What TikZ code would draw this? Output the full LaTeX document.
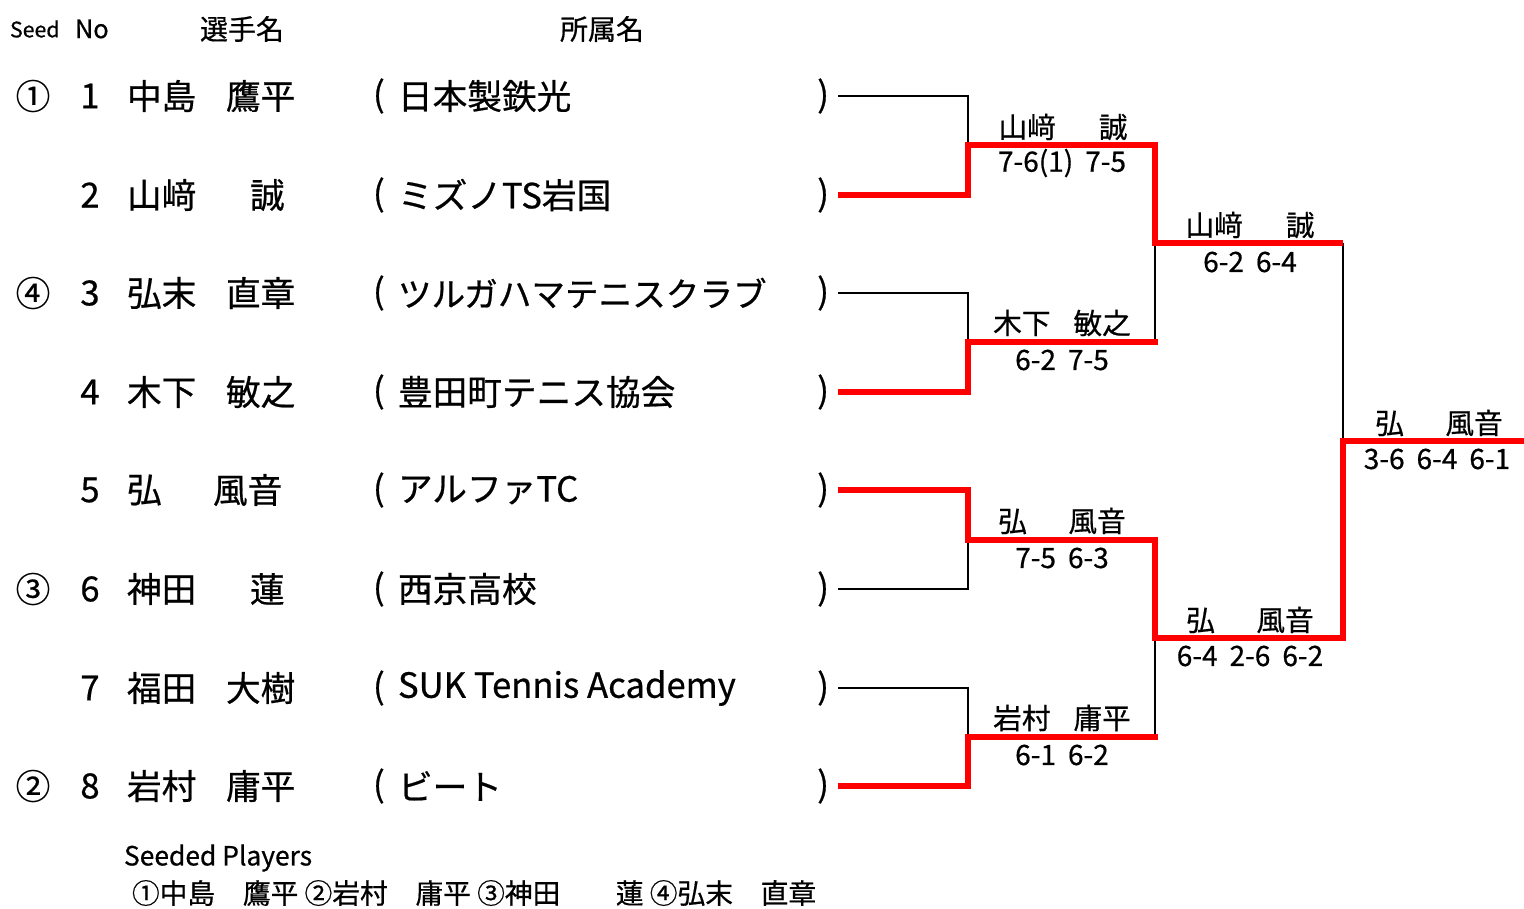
\documentclass[tikz,border=0pt]{standalone}
\usepackage{fontspec}
\setmainfont{Noto Sans CJK JP}[BoldFont={Noto Sans CJK JP},BoldFeatures={FakeBold=0.6}]
\begin{document}
\begin{tikzpicture}[x=0.75pt,y=-0.75pt,
  every node/.style={inner sep=0pt,outer sep=0pt},
  pl/.style={font=\bfseries\fontsize{26}{26}\selectfont,anchor=west},
  hdr/.style={font=\bfseries\fontsize{21}{21}\selectfont},
  wname/.style={font=\bfseries\fontsize{21.5}{21.5}\selectfont},
  score/.style={font=\bfseries\fontsize{21}{21}\selectfont,execute at begin node={\spaceskip=9pt\relax}},
  loser/.style={draw=black,line width=2.2pt},
  winner/.style={draw=red,line width=5.2pt}]
\useasboundingbox (0,0) rectangle (1524,908);
% header
\node[anchor=west,font=\bfseries\fontsize{16}{16}\selectfont] (hseed) at (10,29) {Seed};
\node[anchor=west,font=\bfseries\fontsize{19}{19}\selectfont] (hno) at (75,29) {No};
\node[hdr] (hname) at (242,29) {選手名};
\node[hdr] (hclub) at (602,29) {所属名};
% rows
\node[pl,anchor=center] (s1) at (33,96) {①};
\node[pl,anchor=center] (n1) at (90,96) {1};
\node[pl] (sur1) at (127,96) {中島};
\node[pl] (giv1) at (226,96) {鷹平};
\node[pl] (lp1) at (373,96) {(};
\node[pl] (club1) at (398,96) {日本製鉄光};
\node[pl,anchor=east] (rp1) at (829,96) {)};

\node[pl,anchor=center] (n2) at (90,195) {2};
\node[pl] (sur2) at (127,195) {山﨑};
\node[pl] (giv2) at (250,195) {誠};
\node[pl] (lp2) at (373,195) {(};
\node[pl] (club2) at (398,195) {ミズノTS岩国};
\node[pl,anchor=east] (rp2) at (829,195) {)};

\node[pl,anchor=center] (s3) at (33,293) {④};
\node[pl,anchor=center] (n3) at (90,293) {3};
\node[pl] (sur3) at (127,293) {弘末};
\node[pl] (giv3) at (226,293) {直章};
\node[pl] (lp3) at (373,293) {(};
\node[pl,font=\bfseries\fontsize{25.2}{25.2}\selectfont] (club3) at (398,293) {ツルガハマテニスクラブ};
\node[pl,anchor=east] (rp3) at (829,293) {)};

\node[pl,anchor=center] (n4) at (90,392) {4};
\node[pl] (sur4) at (127,392) {木下};
\node[pl] (giv4) at (226,392) {敏之};
\node[pl] (lp4) at (373,392) {(};
\node[pl] (club4) at (398,392) {豊田町テニス協会};
\node[pl,anchor=east] (rp4) at (829,392) {)};

\node[pl,anchor=center] (n5) at (90,490) {5};
\node[pl] (sur5) at (127,490) {弘};
\node[pl] (giv5) at (213,490) {風音};
\node[pl] (lp5) at (373,490) {(};
\node[pl] (club5) at (398,490) {アルファTC};
\node[pl,anchor=east] (rp5) at (829,490) {)};

\node[pl,anchor=center] (s6) at (33,589) {③};
\node[pl,anchor=center] (n6) at (90,589) {6};
\node[pl] (sur6) at (127,589) {神田};
\node[pl] (giv6) at (250,589) {蓮};
\node[pl] (lp6) at (373,589) {(};
\node[pl] (club6) at (398,589) {西京高校};
\node[pl,anchor=east] (rp6) at (829,589) {)};

\node[pl,anchor=center] (n7) at (90,688) {7};
\node[pl] (sur7) at (127,688) {福田};
\node[pl] (giv7) at (226,688) {大樹};
\node[pl] (lp7) at (373,688) {(};
\node[pl] (club7) at (398,688) {SUK Tennis Academy};
\node[pl,anchor=east] (rp7) at (829,688) {)};

\node[pl,anchor=center] (s8) at (33,786) {②};
\node[pl,anchor=center] (n8) at (90,786) {8};
\node[pl] (sur8) at (127,786) {岩村};
\node[pl] (giv8) at (226,786) {庸平};
\node[pl] (lp8) at (373,786) {(};
\node[pl] (club8) at (398,786) {ビート};
\node[pl,anchor=east] (rp8) at (829,786) {)};

% bracket coordinates
\foreach \i/\y in {1/96,2/195,3/293,4/392,5/490,6/589,7/688,8/786}
  \coordinate (e\i) at (838,\y);
\coordinate (m1) at (968,145);
\coordinate (m2) at (968,342);
\coordinate (m3) at (968,540);
\coordinate (m4) at (968,737);
\coordinate (m2e) at (1158,342);
\coordinate (m4e) at (1158,737);
\coordinate (sf1) at (1155,243);
\coordinate (sf1b) at (1155,342);
\coordinate (sf2) at (1155,638);
\coordinate (sf2b) at (1155,737);
\coordinate (sf1e) at (1343,243);
\coordinate (fin) at (1343,441);
\coordinate (champ) at (1524,441);

% losers (black)
\draw[loser] (e1) -| (m1);
\draw[loser] (e3) -| (m2);
\draw[loser] (e6) -| (m3);
\draw[loser] (e7) -| (m4);
\draw[loser] (sf1) -- (sf1b);
\draw[loser] (sf2) -- (sf2b);
\draw[loser] (sf1e) -- (fin);
% winners (red)
\draw[winner] (e2) -| (m1) -| (sf1) -- (sf1e);
\draw[winner] (e4) -| (m2) -- (m2e);
\draw[winner] (e5) -| (m3) -| (sf2) -| (fin) -- (champ);
\draw[winner] (e8) -| (m4) -- (m4e);

% results
\node[wname] (w1) at (1063,127) {山﨑\hspace{1.5em}誠};
\node[score] (r1) at (1062,163) {7-6(1) 7-5};
\node[wname] (w2) at (1062,323) {木下\hspace{0.8em}敏之};
\node[score] (r2) at (1062,360) {6-2 7-5};
\node[wname] (w3) at (1062,521) {弘\hspace{1.45em}風音};
\node[score] (r3) at (1062,558) {7-5 6-3};
\node[wname] (w4) at (1062,718) {岩村\hspace{0.8em}庸平};
\node[score] (r4) at (1062,755) {6-1 6-2};
\node[wname] (w5) at (1250,225) {山﨑\hspace{1.5em}誠};
\node[score] (r5) at (1250,262) {6-2 6-4};
\node[wname] (w6) at (1250,620) {弘\hspace{1.45em}風音};
\node[score] (r6) at (1250,656) {6-4 2-6 6-2};
\node[wname] (w7) at (1439,423) {弘\hspace{1.45em}風音};
\node[score] (r7) at (1437,459) {3-6 6-4 6-1};

% footer
\node[anchor=west,font=\bfseries\fontsize{19.8}{19.8}\selectfont] (fs) at (124,858) {Seeded Players};
\node[anchor=west,font=\bfseries\fontsize{20.8}{20.8}\selectfont] (fl) at (132,893) {①中島　鷹平 ②岩村　庸平 ③神田　　蓮 ④弘末　直章};
\end{tikzpicture}
\end{document}
